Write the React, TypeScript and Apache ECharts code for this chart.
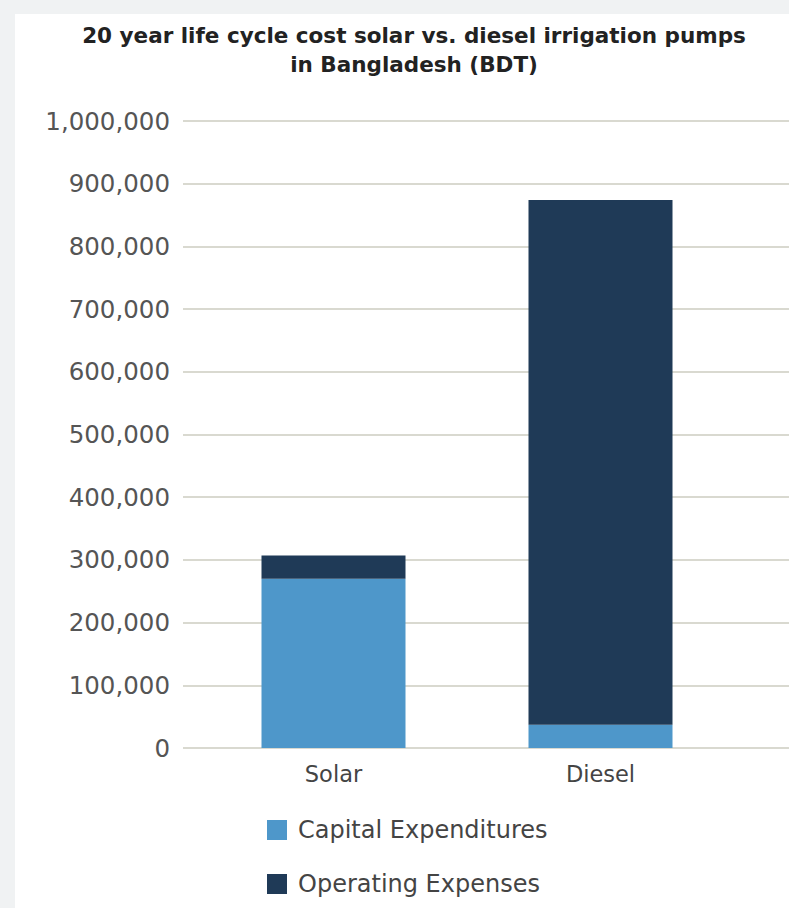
import React, { useEffect, useRef } from "react";
import * as echarts from "echarts";

const categories = ["Solar", "Diesel"];
const capitalExpenditures = [270000, 37000];
const operatingExpenses = [37000, 837000];
const yTicks = [0, 100000, 200000, 300000, 400000, 500000, 600000, 700000, 800000, 900000, 1000000];
const titleLines = ["20 year life cycle cost solar vs. diesel irrigation pumps", "in Bangladesh (BDT)"];

const FONT = "'DejaVu Sans', sans-serif";

export default function App() {
  const ref = useRef<HTMLDivElement>(null);
  useEffect(() => {
    document.body.style.margin = "0";
    const chart = echarts.init(ref.current!, null, { renderer: "svg" });
    const top = 121;
    const height = 627;
    chart.setOption({
      animation: false,
      backgroundColor: "#f0f2f3",
      textStyle: { fontFamily: FONT },
      graphic: [
        { type: "rect", z: -10, shape: { x: 15, y: 14, width: 780, height: 900 }, style: { fill: "#ffffff" } },
      ],
      title: {
        text: titleLines.join("\n"),
        left: 409,
        top: 16,
        textAlign: "center",
        textStyle: { fontFamily: FONT, fontSize: 21.5, fontWeight: "bold", color: "#222222", lineHeight: 29 },
      },
      legend: {
        orient: "vertical",
        left: 262,
        top: 813,
        itemWidth: 20,
        itemHeight: 20,
        itemGap: 30,
        icon: "rect",
        textStyle: { fontFamily: FONT, fontSize: 24, color: "#444444", padding: [0, 0, 0, 6] },
        data: ["Capital Expenditures", "Operating Expenses"],
      },
      grid: [
        { left: 183, right: 0, top, height },
        { left: 200, width: 534, top, height },
      ],
      xAxis: [
        { type: "value", gridIndex: 0, min: 0, max: 1, show: false },
        {
          type: "category",
          gridIndex: 1,
          data: categories,
          axisLine: { show: false },
          axisTick: { show: false },
          axisLabel: { fontFamily: FONT, fontSize: 22.5, color: "#444444", margin: 14 },
        },
      ],
      yAxis: [
        {
          type: "value",
          gridIndex: 0,
          min: yTicks[0],
          max: yTicks[yTicks.length - 1],
          interval: yTicks[1] - yTicks[0],
          axisLine: { show: false },
          axisTick: { show: false },
          axisLabel: {
            fontFamily: FONT,
            fontSize: 24.5,
            color: "#555555",
            margin: 13,
            formatter: (v: number) => v.toLocaleString("en-US"),
          },
          splitLine: { lineStyle: { color: "#d9d9d0", width: 2 } },
        },
        {
          type: "value",
          gridIndex: 1,
          min: yTicks[0],
          max: yTicks[yTicks.length - 1],
          interval: yTicks[1] - yTicks[0],
          show: false,
          splitLine: { show: false },
        },
      ],
      series: [
        {
          name: "Capital Expenditures",
          type: "bar",
          xAxisIndex: 1,
          yAxisIndex: 1,
          stack: "total",
          barWidth: 144,
          data: capitalExpenditures,
          itemStyle: { color: "#4e97ca" },
        },
        {
          name: "Operating Expenses",
          type: "bar",
          xAxisIndex: 1,
          yAxisIndex: 1,
          stack: "total",
          barWidth: 144,
          data: operatingExpenses,
          itemStyle: { color: "#1f3a57" },
        },
      ],
    });
    return () => chart.dispose();
  }, []);
  return <div ref={ref} style={{ width: 789, height: 908 }} />;
}
